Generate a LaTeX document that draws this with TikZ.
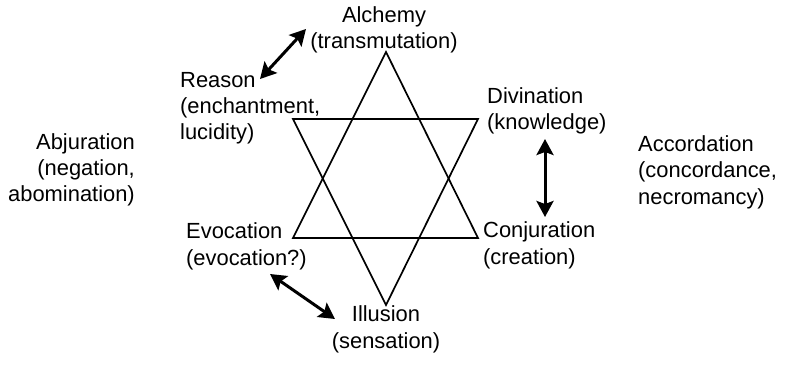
\documentclass[tikz,border=0pt]{standalone}
\usepackage{fontspec}
\setmainfont{Liberation Sans}
\usetikzlibrary{arrows.meta}
\begin{document}
\begin{tikzpicture}[x=1pt,y=-1pt,
  lbl/.style={inner sep=0pt, font=\fontsize{21.9}{26.3}\selectfont},
  star/.style={line width=1.7pt, line join=miter},
  dbl/.style={line width=3pt, {Stealth[length=16pt,width=17pt,inset=3pt]}-{Stealth[length=16pt,width=17pt,inset=3pt]}}]
\useasboundingbox (0,0) rectangle (798,372);
% star
\coordinate (ua) at (386,52);
\coordinate (ul) at (293,238);
\coordinate (ur) at (478,238);
\coordinate (dl) at (293,119);
\coordinate (dr) at (478,119);
\coordinate (da) at (386,305);
\draw[star] (ua) -- (ul) -- (ur) -- cycle;
\draw[star] (dl) -- (dr) -- (da) -- cycle;
% labels (base anchor = baseline of last line)
\node[lbl, align=center, anchor=base] (alchemy) at (384,48.3) {Alchemy\\(transmutation)};
\node[lbl, align=left, anchor=base west] (reason) at (180,139.6) {Reason\\(enchantment,\\lucidity)};
\node[lbl, align=left, anchor=base west] (divination) at (487,129.3) {Divination\\(knowledge)};
\node[lbl, align=left, anchor=base west] (accordation) at (638,204) {Accordation\\(concordance,\\necromancy)};
\node[lbl, align=right, anchor=base east] (abjuration) at (135,201.6) {Abjuration\\(negation,\\abomination)};
\node[lbl, align=left, anchor=base west] (evocation) at (186,265) {Evocation\\(evocation?)};
\node[lbl, align=left, anchor=base west] (conjuration) at (483,264) {Conjuration\\(creation)};
\node[lbl, align=center, anchor=base] (illusion) at (386,348) {Illusion\\(sensation)};
% arrows
\coordinate (a1) at (306,29);
\coordinate (a2) at (260,79);
\coordinate (b1) at (545,139);
\coordinate (b2) at (545,217);
\coordinate (c1) at (270,274);
\coordinate (c2) at (335,319);
\draw[dbl] (a1) -- (a2);
\draw[dbl] (b1) -- (b2);
\draw[dbl] (c1) -- (c2);
\end{tikzpicture}
\end{document}
